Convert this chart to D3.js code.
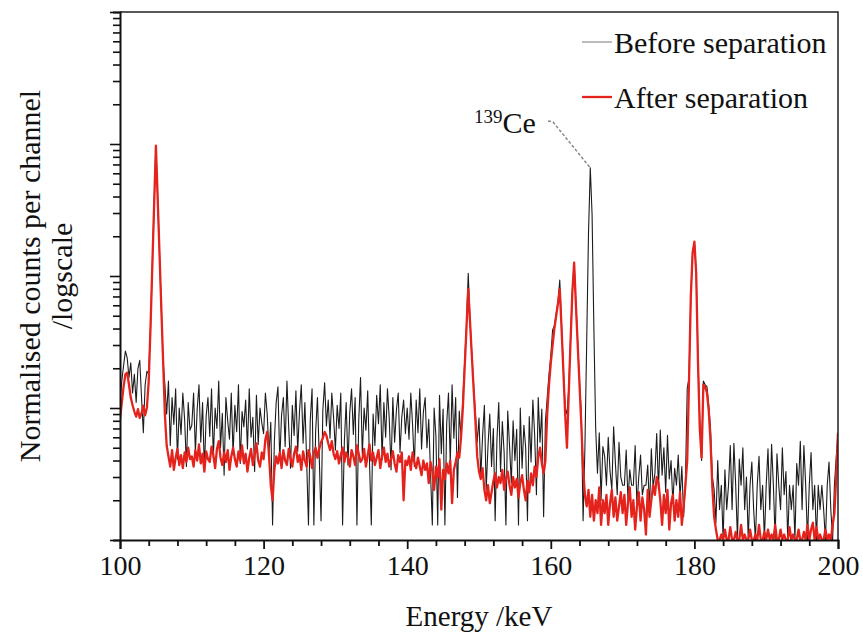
<!DOCTYPE html>
<html>
<head>
<meta charset="utf-8">
<script src="https://cdn.jsdelivr.net/npm/d3@7"></script>
<style>
    body { margin: 0; background: #fff; }
    svg { display: block; }
    text { font-family: "Liberation Serif", "Times New Roman", serif; fill: #111; }
</style>
</head>
<body>
<div id="chart"></div>
<script>

// channel calibration: first channel energy and channel width (keV)
const energyStart = 100;
const energyStep = 0.25;

// counts per channel before separation (black trace), 100 -> 200 keV
const beforeCounts = [
    // 100 - 109.75
    11, 16, 21, 27, 24, 17, 22, 13, 18, 11, 20, 23, 12, 6.5, 15, 19,
    18, 41, 119, 344, 970, 385, 150, 58, 23, 15,
    9, 16, 5.2, 12, 7.5, 14, 4.1, 10, 6.3, 13, 8.2, 3.6, 11, 6.8,
    // 110 - 119.75
    7.4, 13, 4.6, 9.8, 15, 5.5, 11, 3.4, 8.7, 12,
    6.1, 14, 4.2, 10, 7.0, 16, 5.0, 9.1, 3.1, 12,
    8.0, 5.8, 13, 4.4, 10.5, 6.6, 15, 3.8, 9.4, 7.2,
    11.5, 4.9, 14, 6.0, 8.5, 3.3, 12.5, 5.3, 10, 7.7,
    // 120 - 129.75
    6.4, 13, 9, 4.5, 7.8, 1.3, 5.6, 11, 14.5, 4.0,
    8.8, 12, 5.1, 16, 7.1, 3.5, 10.5, 6.2, 13.5, 4.7,
    9.5, 15, 5.4, 11, 3.9, 1.3, 8.1, 14, 1.3, 6.7,
    12, 4.3, 1.4, 9.6, 15.5, 7.3, 11.5, 5.9, 13, 8.4,
    // 130 - 139.75
    4.8, 10.5, 7.0, 13, 1.3, 5.6, 11, 3.7, 9.2, 14,
    6.3, 12, 1.3, 8.0, 17, 4.4, 10, 6.8, 13.5, 3.9,
    1.3, 9.0, 5.2, 12.5, 7.6, 15, 4.1, 11, 6.0, 14,
    8.3, 3.4, 12, 5.5, 9.7, 13, 4.6, 8.6, 11.5, 6.4,
    // 140 - 149.75
    10, 5.8, 13, 7.4, 3.6, 11.5, 6.5, 14, 4.9, 9.3,
    12, 5.0, 8.2, 3.2, 1.3, 10, 6.1, 1.3, 12.5, 4.5,
    9.8, 1.3, 7.6, 13, 3.8, 15, 5.9, 12, 2.1, 9.5,
    6, 12, 22, 42, 105, 46, 26, 15, 9, 5.5,
    // 150 - 159.75
    8.4, 3.0, 6.2, 10.5, 2.4, 5.1, 9.0, 3.6, 7.0, 1.4,
    5.8, 11, 3.3, 7.9, 4.6, 1.3, 9.5, 5.2, 2.7, 8.0,
    4.0, 6.9, 1.3, 10, 3.5, 7.4, 5.0, 1.4, 8.6, 3.9,
    11.5, 6.3, 2.2, 12, 5.5, 9.8, 1.5, 7.9, 12, 18,
    // 160 - 169.75
    25, 39, 42, 52, 64, 93, 42, 20, 10, 9,
    14, 33, 76, 127, 61, 31, 16, 9, 1.4, 5,
    32, 210, 660, 290, 40, 7, 3.2, 6.5, 2.0, 5.1,
    4.3, 2.6, 6.0, 3.3, 2.4, 7.2, 3.8, 2.2, 5.5, 3.0,
    // 170 - 179.75
    2.6, 2.6, 4.8, 2.0, 3.4, 2.6, 2.6, 5.2, 1.8, 3.0,
    4.4, 2.2, 2.6, 2.6, 3.7, 1.7, 4.9, 2.5, 3.2, 6.4,
    2.4, 6.8, 3.1, 5.0, 2.3, 6.2, 2.9, 4.0, 1.9, 3.5,
    2.6, 4.4, 2.1, 3.6, 1.5, 2.8, 14, 17, 70, 150,
    // 180 - 189.75
    180, 106, 24, 8, 4.0, 16, 15, 14.5, 10.5, 7,
    3.0, 2.4, 1.35, 4.0, 1.7, 2.6, 1.0, 3.4, 1.7, 2.6,
    5.2, 1.7, 5.4, 2.6, 1.0, 4.1, 2.6, 5.0, 1.7, 3.0,
    1.0, 2.6, 3.9, 1.7, 1.0, 2.6, 4.3, 1.7, 2.6, 1.0,
    // 190 - 200
    2.6, 4.9, 1.7, 5.3, 2.6, 1.0, 4.5, 2.6, 1.7, 5.0,
    2.2, 3.3, 1.0, 2.6, 1.7, 2.6, 1.0, 3.8, 2.6, 5.6,
    1.7, 5.2, 2.6, 1.0, 2.6, 4.6, 1.7, 2.6, 1.0, 2.6,
    1.7, 2.6, 1.7, 1.0, 2.6, 3.9, 1.7, 1.0, 2.6, 4.2,
    6.5
];

// counts per channel after separation (red trace), 100 -> 200 keV
const afterCounts = [
    // 100 - 109.75
    8.2, 11, 14.5, 18, 18.5, 15, 12, 10.5, 9.4, 8.6, 9.8, 8.4, 9.2, 10.4, 8.8, 10.1,
    16, 41, 119, 344, 970, 385, 150, 58, 23, 9,
    5.2, 4.3, 3.6, 4.8, 3.4, 4.2, 4.9, 3.7, 4.4, 3.5, 4.6, 3.9, 5.0, 4.1,
    // 110 - 119.75
    4.3, 3.6, 4.8, 4.0, 5.3, 3.8, 4.5, 3.3, 4.7, 4.1,
    3.9, 5.1, 4.4, 3.5, 4.9, 5.6, 4.2, 3.7, 4.6, 3.9,
    4.8, 3.4, 4.3, 5.0, 4.1, 3.6, 4.7, 4.0, 5.2, 3.8,
    4.5, 3.3, 4.2, 4.9, 3.7, 4.4, 5.4, 4.0, 3.6, 4.6,
    // 120 - 129.75
    4.1, 5.8, 6.6, 4.4, 2.6, 2.0, 3.4, 4.3, 3.8, 4.6,
    3.5, 4.8, 4.0, 3.7, 4.9, 4.2, 3.6, 4.5, 5.1, 3.9,
    4.4, 3.4, 4.7, 4.0, 3.6, 4.8, 4.3, 3.5, 4.6, 5.0,
    4.2, 4.9, 5.5, 5.9, 6.6, 6.2, 5.4, 4.8, 5.6, 4.5,
    // 130 - 139.75
    4.1, 4.7, 3.8, 4.4, 5.0, 3.9, 4.6, 4.2, 3.6, 4.8,
    4.3, 3.7, 5.2, 4.5, 3.9, 4.1, 4.9, 3.6, 4.4, 5.3,
    4.0, 4.6, 3.7, 4.2, 4.8, 3.5, 4.3, 5.0, 3.9, 4.5,
    3.6, 4.1, 4.7, 3.8, 3.3, 4.4, 3.9, 4.6, 2.0, 4.0,
    // 140 - 149.75
    3.7, 4.3, 3.4, 4.6, 3.9, 3.5, 4.2, 3.6, 3.1, 4.0,
    3.4, 3.8, 2.7, 3.9, 3.3, 2.4, 3.6, 3.0, 4.1, 1.7,
    3.4, 2.9, 3.8, 3.2, 4.0, 1.9, 3.4, 3.9, 4.6, 4.2,
    6, 10, 20, 40, 80, 45, 25, 14, 8, 4.3,
    // 150 - 159.75
    3.3, 2.9, 3.5, 2.4, 2.0, 2.6, 1.9, 2.3, 2.8, 3.2,
    2.5, 3.0, 2.7, 3.4, 2.4, 2.9, 3.3, 2.6, 2.2, 3.0,
    2.5, 2.9, 2.1, 2.7, 3.1, 2.4, 2.0, 2.8, 2.3, 3.2,
    2.6, 3.6, 3.0, 4.2, 5.0, 3.8, 3.2, 4.0, 9, 15,
    // 160 - 169.75
    22, 30, 40, 50, 62, 80, 40, 19, 9, 5,
    13, 32, 75, 126, 60, 30, 15, 7.5, 3.5, 2.2,
    1.8, 2.4, 1.5, 2.2, 1.4, 2.0, 1.6, 2.5, 1.3, 2.0,
    1.6, 2.2, 1.3, 1.9, 2.4, 1.5, 2.1, 1.4, 1.8, 2.3,
    // 170 - 179.75
    1.6, 2.2, 1.3, 1.9, 2.5, 1.5, 2.0, 1.2, 1.8, 2.3,
    1.4, 2.1, 1.7, 1.1, 2.4, 1.5, 2.0, 2.6, 2.2, 3.0,
    2.7, 2.0, 1.3, 2.2, 1.6, 2.4, 1.2, 1.9, 2.2, 1.4,
    2.0, 1.5, 2.3, 1.3, 1.8, 2.6, 4, 16, 70, 150,
    // 180 - 189.75
    182, 105, 22, 7, 4.2, 15, 14.5, 13, 9.5, 5.5,
    2.5, 1.5, 1.2, 1.0, 1.0, 1.1, 1.0, 1.2, 1.0, 1.0,
    1.25, 1.0, 1.0, 1.15, 1.0, 1.0, 1.3, 1.0, 1.1, 1.0,
    1.0, 1.2, 1.0, 1.0, 1.1, 1.0, 1.3, 1.0, 1.0, 1.15,
    // 190 - 200
    1.0, 1.2, 1.0, 1.1, 1.0, 1.3, 1.0, 1.0, 1.2, 1.0,
    1.1, 1.0, 1.0, 1.25, 1.0, 1.1, 1.0, 1.0, 1.2, 1.0,
    1.0, 1.15, 1.0, 1.3, 1.0, 1.2, 1.35, 1.0, 1.25, 1.0,
    1.1, 1.0, 1.0, 1.2, 1.0, 1.1, 1.0, 1.3, 1.6, 3.0,
    6.5
];

// axis ticks
const xMajorTicks = [100, 120, 140, 160, 180, 200];
const xMinorTicks = [104, 108, 112, 116, 124, 128, 132, 136, 144, 148, 152, 156, 164, 168, 172, 176, 184, 188, 192, 196];
const yDomain = [1, 10000];

// legend entries
const seriesNames = ["Before separation", "After separation"];
const seriesColors = ["#1c1c1c", "#e5231d"];

// Set the dimensions of the graph
let width = 863, height = 635;
let margin = { top: 12, right: 25, bottom: 95, left: 120 };

let svg = d3.select("#chart").append("svg")
    .attr("width", width)
    .attr("height", height);

let x = d3.scaleLinear()
    .domain([100, 200])
    .range([margin.left, width - margin.right]);

let y = d3.scaleLog()
    .domain(yDomain)
    .range([height - margin.bottom, margin.top])
    .clamp(true);

// clip so traces stay inside the frame
svg.append("clipPath").attr("id", "plotClip")
    .append("rect")
    .attr("x", x(100)).attr("y", y(10000))
    .attr("width", x(200) - x(100))
    .attr("height", y(1) - y(10000));

let toPoints = counts => counts.map((c, i) => [energyStart + i * energyStep, c]);

let line = d3.line()
    .x(d => x(d[0]))
    .y(d => y(d[1]));

let traces = svg.append("g").attr("clip-path", "url(#plotClip)");

traces.append("path")
    .attr("d", line(toPoints(beforeCounts)))
    .attr("fill", "none")
    .attr("stroke", seriesColors[0])
    .attr("stroke-width", 1.1)
    .attr("stroke-linejoin", "round");

traces.append("path")
    .attr("d", line(toPoints(afterCounts)))
    .attr("fill", "none")
    .attr("stroke", seriesColors[1])
    .attr("stroke-width", 2.3)
    .attr("stroke-linejoin", "round");

// frame: top and right
svg.append("path")
    .attr("d", `M${x(100)},${y(10000)}H${x(200)}V${y(1)}`)
    .attr("fill", "none")
    .attr("stroke", "#222")
    .attr("stroke-width", 1.5);

// x axis
let xAxis = d3.axisBottom(x)
    .tickValues(xMajorTicks)
    .tickSize(9)
    .tickPadding(6)
    .tickFormat(d3.format("d"));

let xAxisG = svg.append("g")
    .attr("transform", `translate(0,${y(1)})`)
    .call(xAxis);

xAxisG.select(".domain").attr("stroke", "#111").attr("stroke-width", 2);
xAxisG.selectAll(".tick line").attr("stroke", "#111").attr("stroke-width", 1.8);
xAxisG.selectAll(".tick text")
    .style("font-family", "'Liberation Serif', serif")
    .style("font-size", "28px")
    .attr("fill", "#111");

svg.append("g")
    .attr("transform", `translate(0,${y(1)})`)
    .call(d3.axisBottom(x).tickValues(xMinorTicks).tickSize(6).tickFormat(""))
    .call(g => g.select(".domain").remove())
    .selectAll(".tick line").attr("stroke", "#111").attr("stroke-width", 1.8);

// y axis: log ticks without labels
let yAxisG = svg.append("g")
    .attr("transform", `translate(${x(100)},0)`)
    .call(d3.axisLeft(y).tickValues(y.ticks()).tickSize(7).tickFormat(""));

yAxisG.select(".domain").attr("stroke", "#111").attr("stroke-width", 2);
yAxisG.selectAll(".tick line")
    .attr("stroke", "#111")
    .attr("stroke-width", 1.6)
    .attr("x2", d => Math.abs(Math.log10(d) - Math.round(Math.log10(d))) < 1e-6 ? -10 : -7);

// axis titles
svg.append("text")
    .attr("x", (x(100) + x(200)) / 2)
    .attr("y", 626)
    .attr("text-anchor", "middle")
    .style("font-size", "29px")
    .text("Energy /keV");

let yTitle = svg.append("g")
    .attr("transform", `translate(0,${(y(1) + y(10000)) / 2}) rotate(-90)`);

yTitle.append("text")
    .attr("x", 0).attr("y", 40)
    .attr("text-anchor", "middle")
    .style("font-size", "30px")
    .text("Normalised counts per channel");

yTitle.append("text")
    .attr("x", 0).attr("y", 72)
    .attr("text-anchor", "middle")
    .style("font-size", "30px")
    .text("/logscale");

// legend
let legend = svg.append("g").attr("class", "legend");

seriesNames.forEach((name, i) => {
    let ly = 42 + i * 55;
    legend.append("line")
        .attr("x1", 582).attr("x2", 612)
        .attr("y1", ly).attr("y2", ly)
        .attr("stroke", i === 0 ? "#777" : seriesColors[1])
        .attr("stroke-width", i === 0 ? 1 : 2.3);
    legend.append("text")
        .attr("x", 614)
        .attr("y", ly + 11)
        .style("font-size", "30px")
        .text(name);
});

// 139Ce annotation with dashed leader to the black peak
let note = svg.append("text")
    .attr("x", 474)
    .attr("y", 133)
    .style("font-size", "30px");

note.append("tspan")
    .attr("dy", -10)
    .style("font-size", "19px")
    .text("139");

note.append("tspan")
    .attr("dy", 10)
    .text("Ce");

svg.append("path")
    .attr("d", `M548,121L553,122L${x(165.5)},${y(660)}`)
    .attr("fill", "none")
    .attr("stroke", "#888")
    .attr("stroke-width", 1.5)
    .attr("stroke-dasharray", "3,2");

</script>
</body>
</html>
